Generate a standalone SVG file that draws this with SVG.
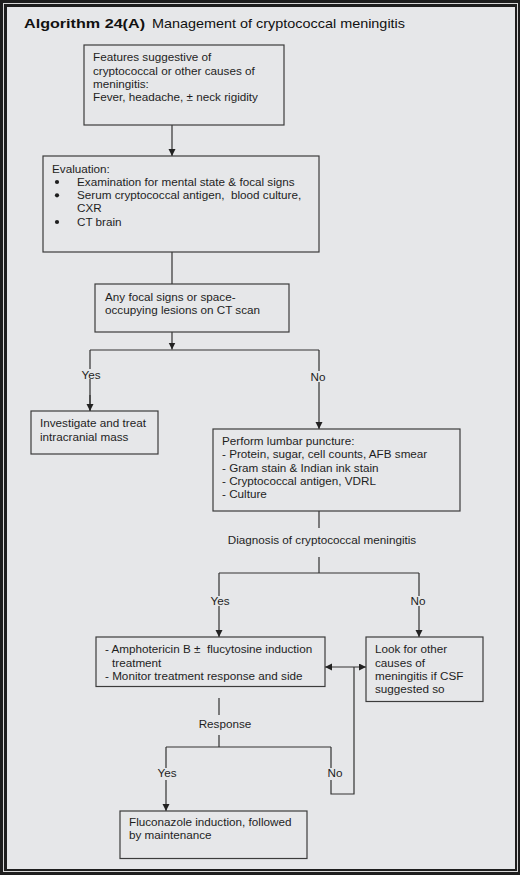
<svg xmlns="http://www.w3.org/2000/svg" width="520" height="875" viewBox="0 0 520 875">
<style>
.box{fill:none;stroke:#3c3c3c;stroke-width:1.2}
.ln{fill:none;stroke:#333;stroke-width:1.2}
.t{font-family:"Liberation Sans",Arial,sans-serif;font-size:11.7px;fill:#1e1e1e;white-space:pre}
.m{text-anchor:middle}
.ttl{font-family:"Liberation Sans",Arial,sans-serif;font-size:13.5px;fill:#111}
</style>
<defs>
<marker id="ah" markerUnits="userSpaceOnUse" markerWidth="8" markerHeight="8" refX="7" refY="3.5" orient="auto-start-reverse">
<path d="M0,0 L7,3.5 L0,7 z" fill="#222"/>
</marker>
</defs>
<rect x="0" y="0" width="520" height="875" fill="#1e1e1e"/>
<rect x="3.5" y="3.5" width="514" height="868" fill="none" stroke="#d8d8d8" stroke-width="1"/>
<rect x="7" y="7" width="508" height="862" fill="#e6e7e9"/>
<g id="title">
<text class="ttl" x="24" y="27.7" font-weight="bold" textLength="121" lengthAdjust="spacingAndGlyphs">Algorithm 24(A)</text>
<text class="ttl" x="152" y="27.7" textLength="253" lengthAdjust="spacingAndGlyphs">Management of cryptococcal meningitis</text>
</g>
<g id="connectors">
<path class="ln" d="M172,125 V156" marker-end="url(#ah)"/>
<path class="ln" d="M172,252 V284"/>
<path class="ln" d="M172,332 V349.5" marker-end="url(#ah)"/>
<path class="ln" d="M90,350 H319"/>
<path class="ln" d="M90,350 V369 M90,379 V411" />
<path class="ln" d="M90,395 V411" marker-end="url(#ah)"/>
<path class="ln" d="M319,350 V371 M319,382 V400"/>
<path class="ln" d="M319,400 V429" marker-end="url(#ah)"/>
<path class="ln" d="M319,511 V528"/>
<path class="ln" d="M319,557 V573 M219,573 H419"/>
<path class="ln" d="M219,573 V596 M219,606 V620"/>
<path class="ln" d="M219,620 V637" marker-end="url(#ah)"/>
<path class="ln" d="M419,573 V596 M419,606 V620"/>
<path class="ln" d="M419,620 V637" marker-end="url(#ah)"/>
<path class="ln" d="M325,667 H366" marker-start="url(#ah)" marker-end="url(#ah)"/>
<path class="ln" d="M354,667 V794 H331 V780 M331,768 V747"/>
<path class="ln" d="M219,698 V715 M219,735 V747 M166,747 H331"/>
<path class="ln" d="M166,747 V768 M166,780 V795"/>
<path class="ln" d="M166,795 V811" marker-end="url(#ah)"/>
</g>
<g id="labels">
<text class="t m" x="91" y="378.5">Yes</text>
<text class="t m" x="318" y="381">No</text>
<text class="t m" x="322" y="544">Diagnosis of cryptococcal meningitis</text>
<text class="t m" x="220" y="605">Yes</text>
<text class="t m" x="418" y="605">No</text>
<text class="t m" x="225" y="728">Response</text>
<text class="t m" x="167" y="777.3">Yes</text>
<text class="t m" x="335" y="777.3">No</text>
</g>
<g id="n1">
<rect class="box" x="84" y="45" width="200" height="80"/>
<text class="t" x="93" y="61.3">Features suggestive of</text>
<text class="t" x="93" y="74.6">cryptococcal or other causes of</text>
<text class="t" x="93" y="88">meningitis:</text>
<text class="t" x="93" y="101.3">Fever, headache, ± neck rigidity</text>
</g>
<g id="n2">
<rect class="box" x="43" y="156" width="276" height="96"/>
<text class="t" x="52" y="172.5">Evaluation:</text>
<circle cx="57" cy="182" r="2.1" fill="#1e1e1e"/>
<circle cx="57" cy="195.3" r="2.1" fill="#1e1e1e"/>
<circle cx="57" cy="222" r="2.1" fill="#1e1e1e"/>
<text class="t" x="77" y="185.8">Examination for mental state &amp; focal signs</text>
<text class="t" x="77" y="199.1">Serum cryptococcal antigen,  blood culture,</text>
<text class="t" x="77" y="212.4">CXR</text>
<text class="t" x="77" y="225.7">CT brain</text>
</g>
<g id="n3">
<rect class="box" x="95" y="284" width="194" height="48"/>
<text class="t" x="105" y="300.7">Any focal signs or space-</text>
<text class="t" x="105" y="314">occupying lesions on CT scan</text>
</g>
<g id="n4">
<rect class="box" x="31" y="411" width="127" height="43"/>
<text class="t" x="40" y="427.3">Investigate and treat</text>
<text class="t" x="40" y="440.6">intracranial mass</text>
</g>
<g id="n5">
<rect class="box" x="213" y="429" width="247" height="82"/>
<text class="t" x="222" y="445">Perform lumbar puncture:</text>
<text class="t" x="222" y="458.3">- Protein, sugar, cell counts, AFB smear</text>
<text class="t" x="222" y="471.6">- Gram stain &amp; Indian ink stain</text>
<text class="t" x="222" y="485">- Cryptococcal antigen, VDRL</text>
<text class="t" x="222" y="498.3">- Culture</text>
</g>
<g id="n6">
<rect class="box" x="96" y="637" width="229" height="49.5"/>
<text class="t" x="105" y="653.3">- Amphotericin B ±  flucytosine induction</text>
<text class="t" x="112" y="666.6">treatment</text>
<text class="t" x="105" y="680">- Monitor treatment response and side</text>
</g>
<g id="n7">
<rect class="box" x="366" y="637" width="117" height="64.5"/>
<text class="t" x="375" y="653.3">Look for other</text>
<text class="t" x="375" y="666.6">causes of</text>
<text class="t" x="375" y="680">meningitis if CSF</text>
<text class="t" x="375" y="693.3">suggested so</text>
</g>
<g id="n8">
<rect class="box" x="120" y="811" width="187" height="47.5"/>
<text class="t" x="129" y="826">Fluconazole induction, followed</text>
<text class="t" x="129" y="839.3">by maintenance</text>
</g>
</svg>
